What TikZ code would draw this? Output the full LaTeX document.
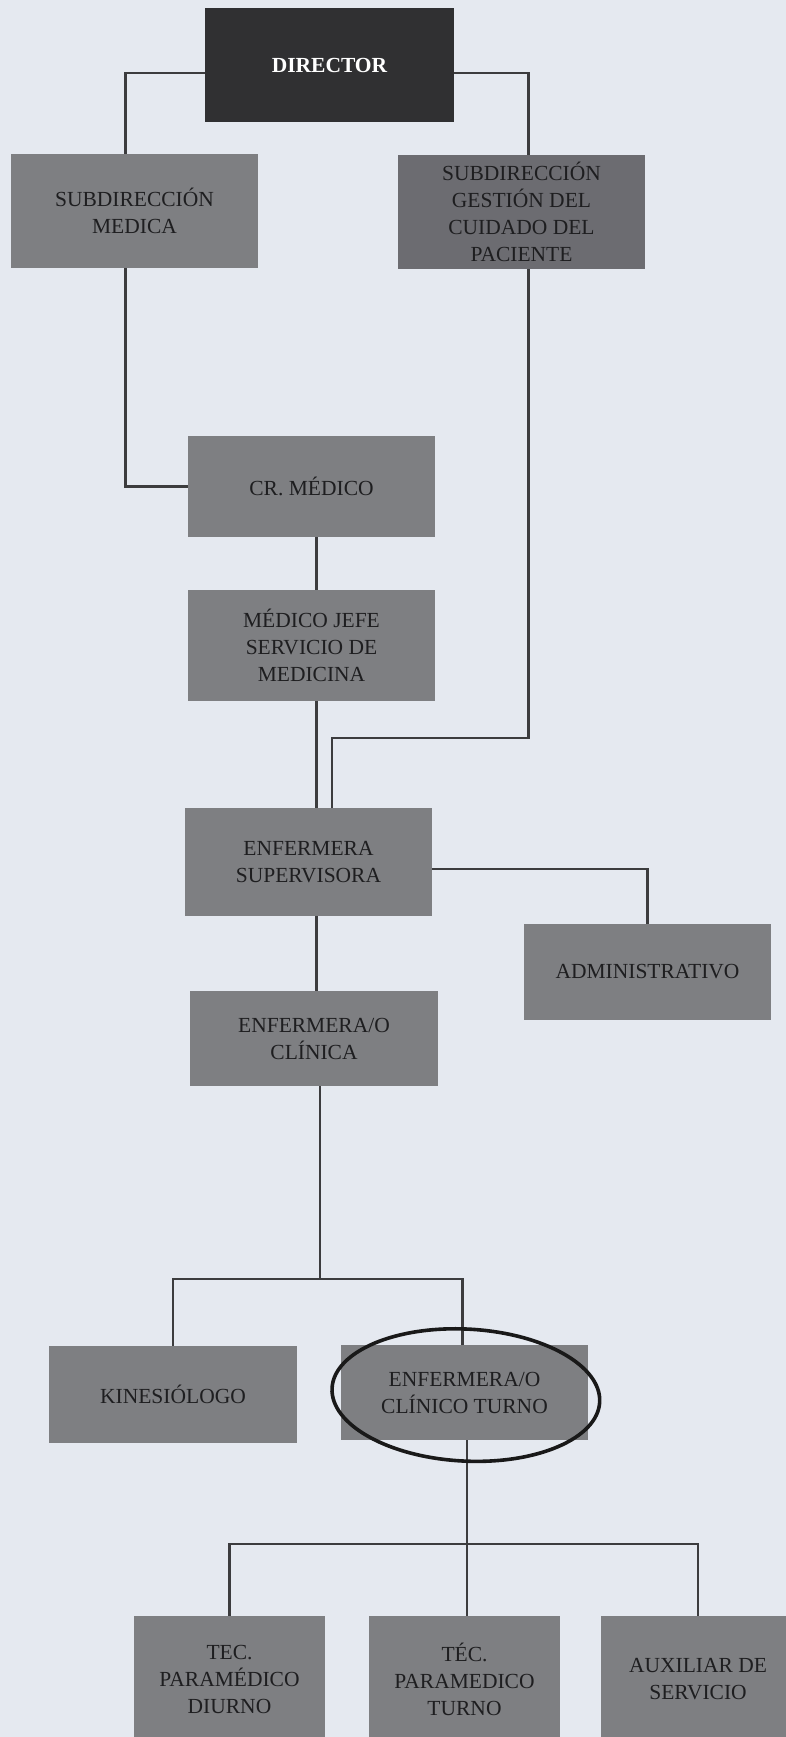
\documentclass[tikz,border=0pt]{standalone}
\usepackage{fontspec}
\setmainfont{Liberation Serif}
\usepackage{tikz}
\usetikzlibrary{calc}

\definecolor{paper}{HTML}{E5E9F0}
\definecolor{boxgray}{HTML}{7E7F82}
\definecolor{boxdark}{HTML}{6C6C71}
\definecolor{headgray}{HTML}{303032}
\definecolor{linegray}{HTML}{3C3C3E}
\definecolor{textgray}{HTML}{1E1E20}

\begin{document}
\begin{tikzpicture}[
    x=1pt, y=-1pt,
    box/.style={rectangle, fill=boxgray, minimum width=247pt, inner sep=0pt, align=center, text=textgray, font=\fontsize{21.5}{27}\selectfont},
    link/.style={draw=linegray, line width=2.8pt},
    ring/.style={draw=black!90, line width=3.6pt}
  ]
    % page and background
    \fill[paper] (0,0) rectangle (786,1737);
    \useasboundingbox (0,0) rectangle (786,1737);

    % top levels
    \node[box, fill=headgray, minimum width=249pt, minimum height=114pt, text=white, font=\fontsize{21.5}{27}\selectfont\bfseries] (dir) at (329.5,65) {DIRECTOR};
    \node[box, minimum height=114pt] (submed) at (134.5,211) {SUBDIRECCIÓN\\MEDICA};
    \node[box, fill=boxdark, minimum height=114pt] (subgest) at (521.5,212) {SUBDIRECCIÓN\\GESTIÓN DEL\\CUIDADO DEL\\PACIENTE};

    % medical line
    \node[box, minimum height=101pt] (crmed) at (311.5,486.5) {CR. MÉDICO};
    \node[box, minimum height=111pt] (mjefe) at (311.5,645.5) {MÉDICO JEFE\\SERVICIO DE\\MEDICINA};

    % nursing
    \node[box, minimum height=108pt] (esup) at (308.5,862) {ENFERMERA\\SUPERVISORA};
    \node[box, minimum height=96pt] (admin) at (647.5,972) {ADMINISTRATIVO};
    \node[box, minimum width=248pt, minimum height=95pt] (eclin) at (314,1038.5) {ENFERMERA/O\\CLÍNICA};
    \node[box, minimum width=248pt, minimum height=97pt] (kine) at (173,1394.5) {KINESIÓLOGO};
    \node[box, minimum height=95pt] (ect) at (464.5,1392.5) {ENFERMERA/O\\CLÍNICO TURNO};

    % bottom row
    \node[box, minimum width=191pt, minimum height=126pt] (tecd) at (229.5,1679) {TEC.\\PARAMÉDICO\\DIURNO};
    \node[box, minimum width=191pt, minimum height=126pt] (tect) at (464.5,1679) {TÉC.\\PARAMEDICO\\TURNO};
    \node[box, minimum width=194pt, minimum height=126pt] (aux) at (698,1679) {AUXILIAR DE\\SERVICIO};

    % joints
    \coordinate (joint) at (332,738);
    \coordinate (fork1) at (320,1279);
    \coordinate (fork2) at (467,1544);

    % connectors
    \draw[link] ([yshift=-8pt]dir.west) -| ([xshift=-9pt]submed.north);
    \draw[link] ([yshift=-8pt]dir.east) -| ([xshift=7pt]subgest.north);
    \draw[link] ([xshift=-9pt]submed.south) |- (crmed.west);
    \draw[link] ([xshift=5pt]crmed.south) -- ([xshift=5pt]mjefe.north);
    \draw[link] ([xshift=5pt]mjefe.south) -- ([xshift=5pt]mjefe.south |- esup.north);
    \draw[link] ([xshift=7pt]subgest.south) |- (joint) -- (joint |- esup.north);
    \draw[link] ([yshift=-7pt]esup.east) -| (admin.north);
    \draw[link] ([xshift=8pt]esup.south) -- ([xshift=8pt]esup.south |- eclin.north);
    \draw[link] (eclin.south -| fork1) -- (fork1);
    \draw[link] (kine.north) |- (fork1) -| ([xshift=-2pt]ect.north);
    \draw[link] (ect.south -| fork2) -- (tect.north -| fork2);
    \draw[link] (tecd.north) |- (fork2) -| (aux.north);

    % highlight
    \draw[ring, rotate around={-3:(ect.center)}] ($(ect.center)+(1.5,2.5)$) ellipse [x radius=134pt, y radius=66pt];
  \end{tikzpicture}
\end{document}
